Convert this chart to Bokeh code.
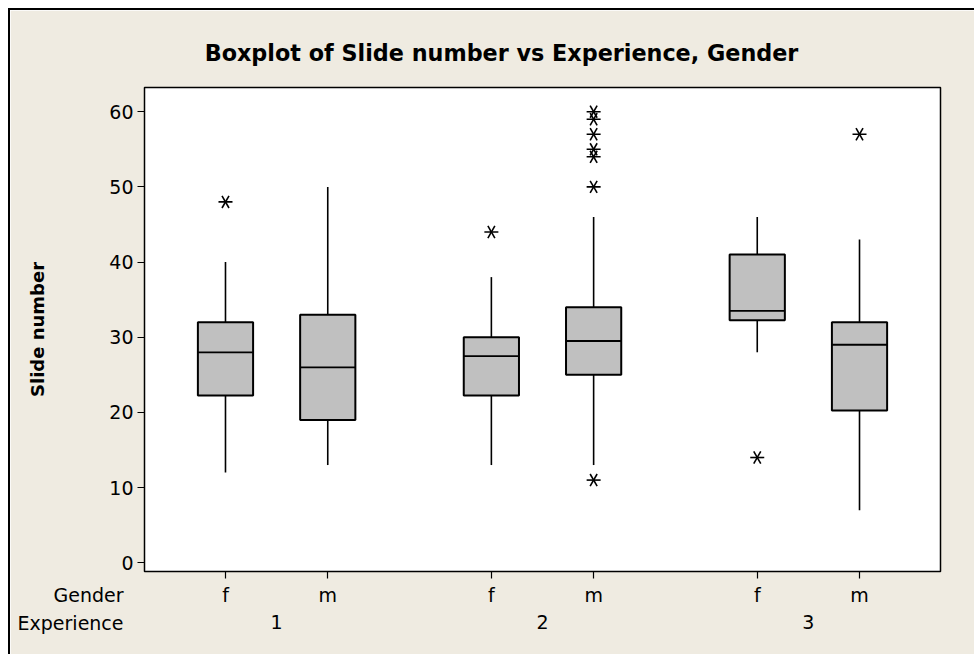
import math
from bokeh.plotting import figure
from bokeh.models import (ColumnDataSource, LinearAxis, FixedTicker, Range1d,
                          Label)
from bokeh.embed import file_html
from bokeh.resources import INLINE

# ---- data ----
experience = ["1", "2", "3"]
gender = ["f", "m"]
# one entry per box, order: (1,f) (1,m) (2,f) (2,m) (3,f) (3,m)
q1 = [22.25, 19.0, 22.25, 25.0, 32.25, 20.25]
median = [28.0, 26.0, 27.5, 29.5, 33.5, 29.0]
q3 = [32.0, 33.0, 30.0, 34.0, 41.0, 32.0]
whisker_low = [12.0, 13.0, 13.0, 13.0, 28.0, 7.0]
whisker_high = [40.0, 50.0, 38.0, 46.0, 46.0, 43.0]
outlier_box = [0, 2, 3, 3, 3, 3, 3, 3, 3, 4, 5]
outlier_val = [48, 44, 11, 50, 54, 55, 57, 59, 60, 14, 57]
y_ticks = [0, 10, 20, 30, 40, 50, 60]
title_text = "Boxplot of Slide number vs Experience, Gender"

# ---- layout of categories ----
GROUP_STEP = 2.6
BOX_W = 0.54
pos = []
labels = []
for g, e in enumerate(experience):
    for k, s in enumerate(gender):
        pos.append(1.0 + g * GROUP_STEP + k)
        labels.append(s)
group_pos = [1.5 + g * GROUP_STEP for g in range(len(experience))]

BG = "#EFEBE1"
FONT = "DejaVu Sans"
FS = "19px"

p = figure(width=966, height=646, output_backend="svg", toolbar_location=None,
           x_range=Range1d(0.208, 7.992), y_range=Range1d(-1.16, 63.22),
           min_border_left=134, min_border_right=36, min_border_top=77,
           min_border_bottom=85, x_axis_type=None)
p.title = None
p.border_fill_color = BG
p.background_fill_color = "white"
p.outline_line_color = "black"
p.outline_line_width = 1.5
p.ygrid.visible = False
p.styles = {"margin-left": "8px", "margin-top": "8px",
            "border-top": "2px solid black", "border-left": "2px solid black"}

# y axis
ya = p.yaxis[0]
ya.ticker = FixedTicker(ticks=y_ticks)
ya.major_tick_out = 7
ya.major_tick_in = 0
ya.minor_tick_line_color = None
ya.axis_line_color = None
ya.major_tick_line_color = "black"
ya.major_tick_line_width = 1.2
ya.major_label_text_font = FONT
ya.major_label_text_font_size = FS
ya.major_label_text_color = "black"
ya.major_label_standoff = 4
ya.axis_label = "Slide number"
ya.axis_label_text_font = FONT
ya.axis_label_text_font_size = "18px"
ya.axis_label_text_font_style = "bold"
ya.axis_label_text_color = "black"
ya.axis_label_standoff = 58

# x axis: gender row
xa = LinearAxis(ticker=FixedTicker(ticks=pos),
                major_label_overrides={x: l for x, l in zip(pos, labels)})
xa.major_tick_out = 7
xa.major_tick_in = 0
xa.major_tick_line_width = 1.2
xa.minor_tick_line_color = None
xa.axis_line_color = None
xa.major_label_text_font = FONT
xa.major_label_text_font_size = FS
xa.major_label_text_color = "black"
xa.major_label_standoff = 5
p.add_layout(xa, "below")

# x axis: experience row
xb = LinearAxis(ticker=FixedTicker(ticks=group_pos),
                major_label_overrides={x: l for x, l in zip(group_pos, experience)})
xb.major_tick_line_color = None
xb.minor_tick_line_color = None
xb.axis_line_color = None
xb.major_label_text_font = FONT
xb.major_label_text_font_size = FS
xb.major_label_text_color = "black"
xb.major_label_standoff = 0
p.add_layout(xb, "below")

# title and row captions, placed in the top panel (canvas units, y from top)
p.add_layout(Label(x=489, y=40, x_units="canvas", y_units="canvas",
                   text=title_text, text_align="center", text_baseline="middle",
                   text_font=FONT, text_font_size="22.3px",
                   text_font_style="bold", text_color="black"), "above")
for txt, yc in (("Gender", 582), ("Experience", 610)):
    p.add_layout(Label(x=111, y=yc, x_units="canvas", y_units="canvas",
                       text=txt, text_align="right", text_baseline="middle",
                       text_font=FONT, text_font_size=FS, text_color="black"),
                 "above")

src = ColumnDataSource(dict(x=pos, q1=q1, q3=q3, med=median,
                            lo=whisker_low, hi=whisker_high,
                            xl=[x - BOX_W / 2 for x in pos],
                            xr=[x + BOX_W / 2 for x in pos]))
p.segment(x0="x", y0="q3", x1="x", y1="hi", source=src, line_color="black", line_width=1.6)
p.segment(x0="x", y0="q1", x1="x", y1="lo", source=src, line_color="black", line_width=1.6)
p.vbar(x="x", width=BOX_W, bottom="q1", top="q3", source=src,
       fill_color="#C0C0C0", line_color="black", line_width=2)
p.segment(x0="xl", y0="med", x1="xr", y1="med", source=src, line_color="black", line_width=1.8)

osrc = ColumnDataSource(dict(x=[pos[i] for i in outlier_box], y=outlier_val))
for ang in (0, math.pi / 3, 2 * math.pi / 3):
    p.scatter(x="x", y="y", source=osrc, marker="dash", size=14, angle=ang,
              line_color="black", line_width=1.6)

open("out.html", "w").write(file_html(p, INLINE))
